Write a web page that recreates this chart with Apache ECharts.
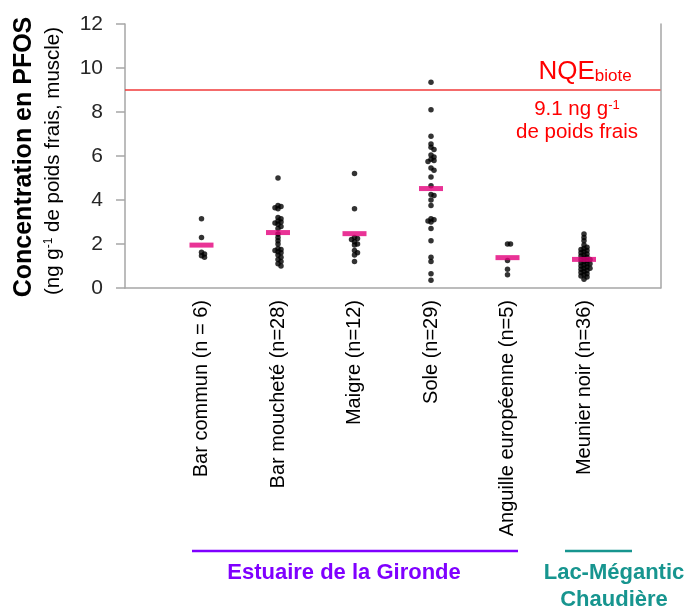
<!DOCTYPE html>
<html><head><meta charset="utf-8">
<script src="https://cdn.jsdelivr.net/npm/echarts@6/dist/echarts.min.js"></script>
<style>html,body{margin:0;padding:0;background:#fff;}#c{width:686px;height:609px;}</style>
</head><body><div id="c"></div>
<script>
// ---- data ----
const categories = ['Bar commun (n = 6)', 'Bar moucheté (n=28)', 'Maigre (n=12)', 'Sole (n=29)', 'Anguille européenne (n=5)', 'Meunier noir (n=36)'];
const barCommun = [3.15, 2.3, 1.62, 1.55, 1.47, 1.4];
const barMouchete = [5.0, 3.75, 3.7, 3.65, 3.6, 3.2, 3.15, 3.05, 3.0, 2.95, 2.9, 2.8, 2.7, 2.45, 2.3, 2.15, 2.0, 1.8, 1.75, 1.7, 1.65, 1.6, 1.5, 1.4, 1.3, 1.2, 1.1, 1.0];
const maigre = [5.2, 3.6, 2.3, 2.25, 2.2, 2.1, 2.0, 1.95, 1.7, 1.6, 1.5, 1.2];
const sole = [9.35, 8.1, 6.9, 6.55, 6.4, 6.3, 6.05, 5.95, 5.85, 5.8, 5.75, 5.45, 5.35, 5.05, 4.65, 4.25, 4.2, 4.0, 3.75, 3.15, 3.1, 3.05, 3.0, 2.7, 2.15, 1.4, 1.2, 0.65, 0.35];
const anguille = [2.0, 2.0, 1.25, 0.85, 0.6];
const meunier = [2.45, 2.3, 2.15, 1.95, 1.85, 1.8, 1.75, 1.7, 1.65, 1.6, 1.55, 1.5, 1.45, 1.4, 1.35, 1.3, 1.3, 1.25, 1.2, 1.15, 1.1, 1.1, 1.05, 1.0, 0.95, 0.9, 0.9, 0.85, 0.8, 0.75, 0.7, 0.65, 0.6, 0.55, 0.5, 0.4];
const groups = [barCommun, barMouchete, maigre, sole, anguille, meunier];
const means = [1.95, 2.52, 2.47, 4.52, 1.38, 1.30];
const nqeValue = 9.0;
const yTicks = [0, 2, 4, 6, 8, 10, 12];

// ---- chart ----
const chart = echarts.init(document.getElementById('c'));
const FONT = '"Liberation Sans", Arial, sans-serif';

// beeswarm offsets (layout only), in px, converted with axis scales
function swarm(values, cx, pxX, pxY, d, step) {
  const placed = [];
  const order = values.map((v, i) => i).sort((a, b) => values[b] - values[a]);
  const out = new Array(values.length);
  const cand = [0];
  for (let j = 1; j < 12; j++) cand.push(j, -j);
  order.forEach(i => {
    const v = values[i];
    let off = 0;
    for (const c of cand) {
      const ox = c * step;
      const ok = placed.every(p => {
        const dx = ox - p[0], dy = (v - p[1]) * pxY;
        return dx * dx + dy * dy >= d * d;
      });
      if (ok) { off = ox; break; }
    }
    placed.push([off, v]);
    out[i] = [cx + off / pxX, v];
  });
  return out;
}

function buildOption(pxX, pxY) {
  const dots = [];
  groups.forEach((g, i) => {
    const pts = pxX ? swarm(g, i + 1, pxX, pxY, 2.6, 3) : g.map(v => [i + 1, v]);
    pts.forEach(p => dots.push(p));
  });
  return {
    animation: false,
    backgroundColor: '#fff',
    grid: { left: 125, right: 25.5, top: 24, bottom: 321, containLabel: false },
    xAxis: {
      type: 'value', min: 0, max: 7, interval: 1,
      axisLine: { show: true, lineStyle: { color: '#A6A6A6', width: 1.5 } },
      axisTick: { show: false }, splitLine: { show: false },
      axisLabel: {
        rotate: 90, margin: 12, fontSize: 20, color: '#000', fontFamily: FONT,
        showMinLabel: true, showMaxLabel: true,
        formatter: v => categories[v - 1] || ''
      }
    },
    yAxis: [{
      type: 'value', min: 0, max: 12, interval: 2,
      axisLine: { show: true, lineStyle: { color: '#A6A6A6', width: 1.5 } },
      axisTick: { show: true, length: 9, lineStyle: { color: '#A6A6A6', width: 1.5 } },
      splitLine: { show: false },
      axisLabel: { fontSize: 21, color: '#262626', margin: 22, fontFamily: FONT,
        formatter: v => yTicks.indexOf(v) >= 0 ? String(v) : '' }
    }, {
      type: 'value', min: 0, max: 12, interval: 2, position: 'right',
      axisLine: { show: true, lineStyle: { color: '#A6A6A6', width: 1.5 } },
      axisTick: { show: false }, axisLabel: { show: false }, splitLine: { show: false }
    }],
    series: [
      {
        type: 'line', data: [[0, nqeValue], [7, nqeValue]], symbol: 'none',
        lineStyle: { color: '#F03A3A', width: 1.3 }, z: 1, silent: true
      },
      {
        type: 'scatter', data: dots, symbol: 'circle', symbolSize: 5.5,
        itemStyle: { color: '#000' }, z: 2
      },
      {
        type: 'scatter', data: means.map((m, i) => [i + 1, m]), symbol: 'rect',
        symbolSize: [24, 5], itemStyle: { color: '#E4007C' }, z: 3
      }
    ],
    graphic: [
      { type: 'text', x: 24, y: 157, rotation: Math.PI / 2,
        style: { text: 'Concentration en PFOS', fontSize: 25, fontWeight: 'bold', fontFamily: FONT,
          fill: '#000', align: 'center', verticalAlign: 'middle' } },
      { type: 'text', x: 53, y: 161, rotation: Math.PI / 2,
        style: { text: '(ng g{s|-1} de poids frais, muscle)', fontSize: 20.5, fontFamily: FONT,
          fill: '#000', align: 'center', verticalAlign: 'middle',
          rich: { s: { fontSize: 12, verticalAlign: 'top', fontFamily: FONT, fill: '#000' } } } },
      { type: 'text', x: 585, y: 72,
        style: { text: '{a|NQE}{b|biote}', fill: '#FF0000', align: 'center', verticalAlign: 'middle',
          rich: { a: { fontSize: 26, fontFamily: FONT, fill: '#FF0000', verticalAlign: 'bottom' },
                  b: { fontSize: 17, fontFamily: FONT, fill: '#FF0000', verticalAlign: 'bottom' } } } },
      { type: 'text', x: 577, y: 109,
        style: { text: '9.1 ng g{s|-1}', fontSize: 20.5, fontFamily: FONT, fill: '#FF0000',
          align: 'center', verticalAlign: 'middle',
          rich: { s: { fontSize: 13, verticalAlign: 'top', fontFamily: FONT, fill: '#FF0000' } } } },
      { type: 'text', x: 577, y: 132,
        style: { text: 'de poids frais', fontSize: 20.5, fontFamily: FONT, fill: '#FF0000',
          align: 'center', verticalAlign: 'middle' } },
      { type: 'line', shape: { x1: 192, y1: 551, x2: 518, y2: 551 },
        style: { stroke: '#7F00FF', lineWidth: 2.5 } },
      { type: 'line', shape: { x1: 565, y1: 551, x2: 632, y2: 551 },
        style: { stroke: '#17958F', lineWidth: 2.5 } },
      { type: 'text', x: 344, y: 573,
        style: { text: 'Estuaire de la Gironde', fontSize: 22, fontWeight: 'bold', fontFamily: FONT,
          fill: '#7F00FF', align: 'center', verticalAlign: 'middle' } },
      { type: 'text', x: 614, y: 573,
        style: { text: 'Lac-Mégantic', fontSize: 22, fontWeight: 'bold', fontFamily: FONT,
          fill: '#17958F', align: 'center', verticalAlign: 'middle' } },
      { type: 'text', x: 614, y: 600,
        style: { text: 'Chaudière', fontSize: 22, fontWeight: 'bold', fontFamily: FONT,
          fill: '#17958F', align: 'center', verticalAlign: 'middle' } }
    ]
  };
}

chart.setOption(buildOption(0, 0));
const p0 = chart.convertToPixel({ gridIndex: 0 }, [0, 0]);
const p1 = chart.convertToPixel({ gridIndex: 0 }, [1, 1]);
const pxX = Math.abs(p1[0] - p0[0]);
const pxY = Math.abs(p1[1] - p0[1]);
chart.setOption(buildOption(pxX, pxY), true);
</script>
</body></html>
